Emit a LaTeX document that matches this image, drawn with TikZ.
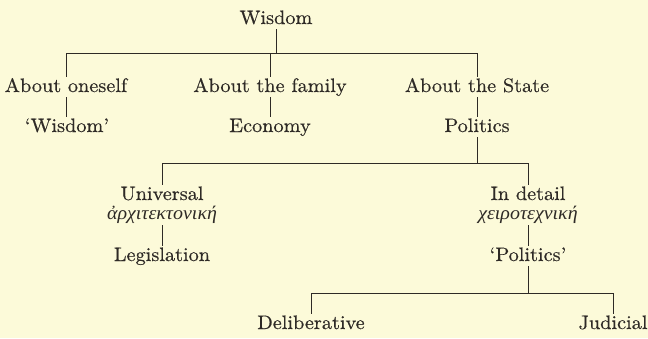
\documentclass[tikz,border=0pt]{standalone}
\usepackage{fontspec}
\usepackage{xcolor}
\usepackage{tikz}
\setmainfont{lmroman10-regular.otf}[FakeStretch=1.04, FakeBold=0.4, Ligatures=TeX]
\newfontfamily\greekfont[Script=Greek, FakeStretch=1.05]{Liberation Serif}
\definecolor{paper}{HTML}{FCFAD9}
\definecolor{ink}{HTML}{2E2A26}
\tikzset{
  lab/.style={text=ink, font=\fontsize{19.5}{22}\selectfont, inner xsep=2pt, inner ysep=1pt, text height=14pt, text depth=4pt},
  grk/.style={text=ink, font=\fontsize{19}{21}\selectfont\greekfont\itshape, inner xsep=2pt, inner ysep=1pt, text height=11pt, text depth=5pt},
  link/.style={draw=ink, line width=0.9pt},
}

\begin{document}
\begin{tikzpicture}[x=1pt,y=-1pt]
  \useasboundingbox (0,0) rectangle (648,338);
  \fill[paper] (0,0) rectangle (648,338);
  % bar levels
  \coordinate (b1) at (0,53);
  \coordinate (b2) at (0,163);
  \coordinate (b3) at (0,293);
  % top
  \node[lab] (wisdom) at (276,19) {Wisdom};
  \node[lab] (oneself) at (66,87) {About oneself};
  \node[lab] (family) at (270,87) {About the family};
  \node[lab] (state) at (477,87) {About the State};
  \node[lab] (wisdomq) at (67,127) {`Wisdom'};
  \node[lab] (economy) at (270,127) {Economy};
  \node[lab] (politics) at (477,127) {Politics};
  % middle
  \node[lab] (universal) at (162,195) {Universal};
  \node[grk] (archi) at (162,216) {ἀρχιτεκτονική};
  \node[lab] (legislation) at (162,256) {Legislation};
  \node[lab] (detail) at (528,195) {In detail};
  \node[grk] (cheiro) at (528,216) {χειροτεχνική};
  \node[lab] (politicsq) at (528,256) {`Politics'};
  % bottom
  \node[lab] (deliberative) at (311,324) {Deliberative};
  \node[lab] (judicial) at (613,324) {Judicial};

  \draw[link] (wisdom) -- (wisdom |- b1);
  \draw[link] (oneself) |- (state |- b1) -- (state);
  \draw[link] (family) -- (family |- b1);
  \draw[link] (oneself) -- (oneself |- wisdomq.north);
  \draw[link] (family) -- (economy);
  \draw[link] (state) -- (politics);
  \draw[link] (politics) -- (politics |- b2);
  \draw[link] (universal) |- (detail |- b2) -- (detail);
  \draw[link] (archi) -- (legislation);
  \draw[link] (cheiro) -- (politicsq);
  \draw[link] (politicsq) -- (politicsq |- b3);
  \draw[link] (deliberative) |- (judicial |- b3) -- (judicial);
\end{tikzpicture}
\end{document}
